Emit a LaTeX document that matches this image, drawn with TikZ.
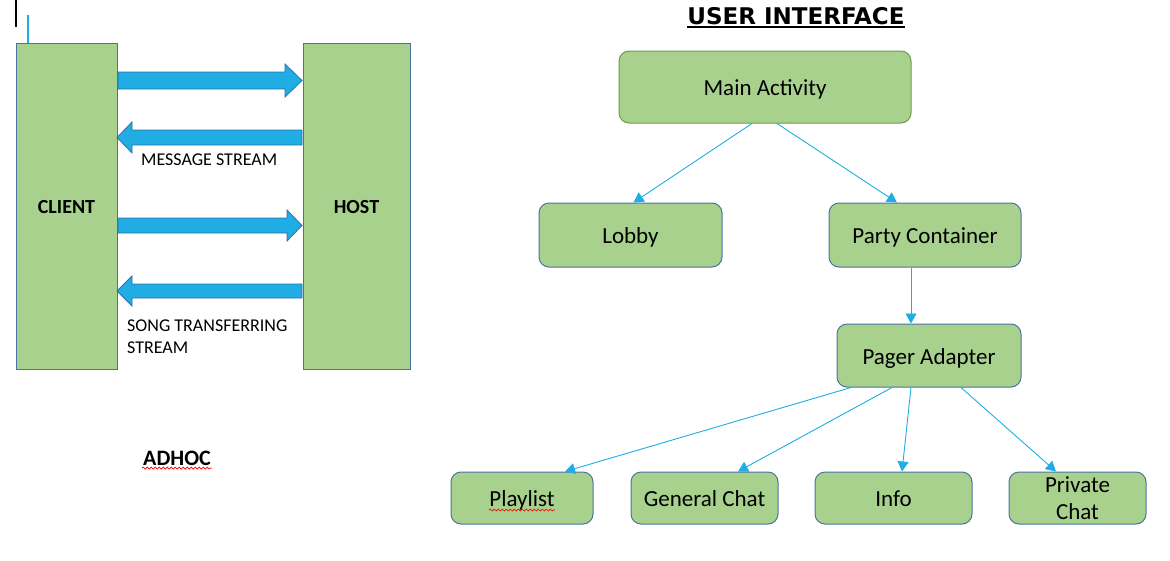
\documentclass[tikz,border=0pt]{standalone}
\usepackage{fontspec}
\setmainfont{Carlito}
\newfontfamily\titlefont{DejaVu Sans}
\usetikzlibrary{arrows.meta,decorations.pathmorphing,calc}
\definecolor{boxgreen}{HTML}{A9D18E}
\definecolor{boxedge}{HTML}{4A73A0}
\definecolor{mainedge}{HTML}{6E9C4B}
\definecolor{flow}{HTML}{1FADE4}
\definecolor{flowedge}{HTML}{2F6FB0}
\begin{document}
\begin{tikzpicture}[x=1pt,y=-1pt,
  tall/.style={draw=boxedge,fill=boxgreen,line width=1pt,inner sep=0pt,text height=15pt,text depth=0pt,font=\fontsize{20}{24}\selectfont\bfseries},
  uibox/.style={draw=boxedge,fill=boxgreen,line width=1pt,rounded corners=10pt,inner sep=0pt,align=center,font=\fontsize{23}{27}\selectfont},
  oneline/.style={text height=17pt,text depth=0pt},
  link/.style={draw=flow,line width=0.9pt,-{Triangle[length=10pt,width=11pt]}},
  blockarrow/.style={fill=flow,draw=flowedge,line width=0.8pt,line join=miter},
  lbl/.style={font=\fontsize{18}{22}\selectfont,anchor=west,inner sep=0pt,align=left},
  squiggle/.style={draw=red,line width=0.7pt,decorate,decoration={snake,amplitude=1pt,segment length=4pt}}]
\useasboundingbox (0,0) rectangle (1170,560);

% cursor marks
\draw[line width=2pt] (15.5,0) -- (15.5,27);
\draw[flow,line width=1.5pt] (28,15) -- (28,43);

% ADHOC part
\node[tall,minimum width=101pt,minimum height=326pt] (client) at (66.5,206) {CLIENT};
\node[tall,minimum width=107pt,minimum height=326pt] (host) at (356.5,206) {HOST};

\draw[blockarrow] (118,72) -- (285,72) -- (285,64) -- (302,80.5) -- (285,97) -- (285,89) -- (118,89) -- cycle;
\draw[blockarrow] (302,130) -- (132,130) -- (132,122) -- (117,137.5) -- (132,153) -- (132,145) -- (302,145) -- cycle;
\draw[blockarrow] (118,218) -- (287,218) -- (287,210) -- (302,225.5) -- (287,241) -- (287,233) -- (118,233) -- cycle;
\draw[blockarrow] (302,284) -- (132,284) -- (132,276) -- (117,291) -- (132,306) -- (132,298) -- (302,298) -- cycle;

\node[lbl] (msg) at (141,160) {MESSAGE STREAM};
\node[lbl] (song) at (127,337) {SONG TRANSFERRING\\STREAM};

\node[font=\fontsize{22}{26}\selectfont\bfseries,inner sep=0pt] (adhoc) at (177,458) {ADHOC};
\draw[squiggle] (142,468) -- (212,468);

% USER INTERFACE part
\node[font=\titlefont\fontsize{23}{27}\selectfont\bfseries,inner sep=0pt] (title) at (796,16) {USER INTERFACE};
\draw[line width=1.5pt] ($(title.base west)+(0,2.5)$) -- ($(title.base east)+(0,2.5)$);

\node[uibox,oneline,draw=mainedge,minimum width=292pt,minimum height=72pt] (main) at (765,87) {Main Activity};
\node[uibox,oneline,minimum width=183pt,minimum height=64pt] (lobby) at (630.5,235) {Lobby};
\node[uibox,oneline,minimum width=192pt,minimum height=64pt] (party) at (925,235) {Party Container};
\node[uibox,oneline,minimum width=184pt,minimum height=63pt] (pager) at (929,355.5) {Pager Adapter};
\node[uibox,oneline,minimum width=142pt,minimum height=52pt] (playlist) at (522,498) {Playlist};
\node[uibox,oneline,minimum width=147pt,minimum height=52pt] (general) at (704.5,498) {General Chat};
\node[uibox,oneline,minimum width=157pt,minimum height=52pt] (info) at (893.5,498) {Info};
\node[uibox,minimum width=137pt,minimum height=52pt] (private) at (1077.5,498) {\raisebox{-2pt}{Private}\\\raisebox{-2pt}{Chat}};
\draw[squiggle] (489,510) -- (555,510);

\draw[link] ([xshift=-13pt]main.south) -- ([xshift=3pt]lobby.north);
\draw[link] ([xshift=12pt]main.south) -- ([xshift=-28pt]party.north);
\draw[link] ([xshift=-14pt]party.south) -- ([xshift=-18pt]pager.north);
\draw[link] ([xshift=-78pt]pager.south) -- ([xshift=43pt]playlist.north);
\draw[link] ([xshift=-37pt]pager.south) -- ([xshift=33.5pt]general.north);
\draw[link] ([xshift=-18pt]pager.south) -- ([xshift=8.5pt]info.north);
\draw[link] ([xshift=32pt]pager.south) -- ([xshift=-21.5pt]private.north);
\end{tikzpicture}
\end{document}
